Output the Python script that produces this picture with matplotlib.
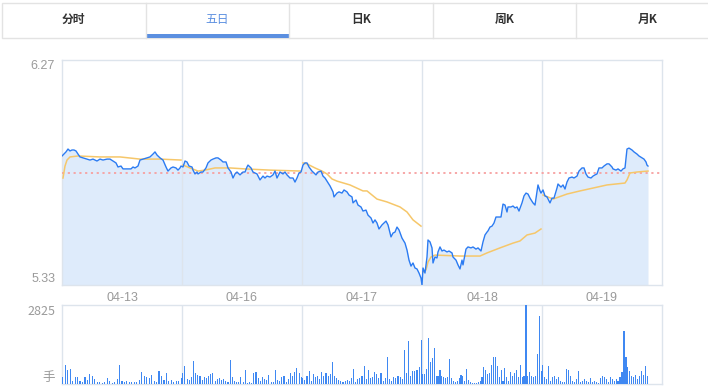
import numpy as np
import matplotlib
matplotlib.use("Agg")
import matplotlib.pyplot as plt
from matplotlib.patches import Rectangle
from matplotlib.lines import Line2D

plt.rcParams['font.family'] = ['Liberation Sans', 'Noto Sans CJK SC', 'DejaVu Sans']

# ---------------- data ----------------
tabs = ["分时", "五日", "日K", "周K", "月K"]
active_tab = 1
days = ["04-13", "04-16", "04-17", "04-18", "04-19"]
pre_close = 5.80
price_top, price_bottom = 6.27, 5.33
vol_max = 2825
vol_unit = "手"
day_len = 240

# (minute of session, price)
day1_price = [(0,5.869),(2,5.873),(8,5.886),(12,5.898),(16,5.890),(20,5.894),(24,5.894),(28,5.890),(32,5.877),(36,5.865),(42,5.861),(50,5.856),(56,5.852),(62,5.856),(70,5.848),(76,5.856),(82,5.852),(90,5.856),(96,5.856),(102,5.848),(108,5.840),(112,5.823),(118,5.827),(122,5.815),(130,5.815),(138,5.815),(142,5.823),(146,5.819),(152,5.827),(156,5.852),(162,5.856),(170,5.861),(176,5.865),(182,5.877),(186,5.886),(190,5.873),(196,5.861),(202,5.852),(208,5.823),(212,5.806),(218,5.819),(222,5.823),(228,5.819),(232,5.810),(236,5.819),(238,5.827)]
day2_price = [(2,5.823),(6,5.848),(10,5.844),(14,5.827),(20,5.823),(22,5.810),(26,5.794),(30,5.802),(32,5.794),(38,5.802),(42,5.802),(48,5.819),(52,5.840),(58,5.852),(62,5.856),(68,5.861),(72,5.861),(78,5.852),(82,5.844),(88,5.844),(92,5.819),(98,5.802),(102,5.777),(106,5.794),(110,5.802),(116,5.790),(122,5.802),(126,5.802),(130,5.823),(132,5.831),(138,5.819),(142,5.802),(150,5.794),(156,5.769),(162,5.785),(166,5.777),(170,5.785),(176,5.781),(182,5.790),(186,5.806),(190,5.777),(196,5.802),(202,5.794),(206,5.802),(210,5.790),(216,5.777),(222,5.777),(226,5.760),(230,5.777),(234,5.798),(238,5.802)]
day3_price = [(2,5.831),(6,5.840),(10,5.840),(14,5.823),(20,5.806),(24,5.798),(28,5.790),(32,5.802),(38,5.806),(42,5.785),(46,5.777),(50,5.764),(56,5.744),(62,5.719),(64,5.698),(70,5.714),(74,5.719),(80,5.714),(84,5.727),(90,5.719),(94,5.706),(100,5.698),(102,5.673),(108,5.685),(112,5.664),(118,5.656),(122,5.639),(128,5.643),(132,5.622),(138,5.610),(142,5.589),(146,5.602),(150,5.589),(154,5.564),(160,5.581),(162,5.585),(168,5.597),(172,5.581),(178,5.531),(182,5.547),(186,5.551),(190,5.572),(194,5.560),(200,5.526),(206,5.505),(210,5.476),(214,5.434),(218,5.409),(222,5.422),(226,5.401),(230,5.397),(234,5.380),(238,5.359),(240,5.330)]
day4_price = [(2,5.401),(6,5.380),(10,5.447),(12,5.518),(16,5.510),(20,5.485),(22,5.422),(26,5.447),(30,5.443),(32,5.468),(36,5.489),(40,5.472),(44,5.476),(50,5.468),(54,5.472),(60,5.464),(62,5.447),(68,5.434),(72,5.414),(76,5.397),(80,5.434),(82,5.414),(88,5.480),(92,5.489),(98,5.485),(102,5.489),(108,5.480),(112,5.485),(118,5.472),(122,5.510),(126,5.539),(130,5.551),(132,5.556),(136,5.572),(140,5.576),(144,5.589),(148,5.614),(152,5.614),(158,5.614),(162,5.668),(166,5.664),(170,5.635),(172,5.656),(178,5.656),(182,5.660),(186,5.652),(190,5.656),(194,5.639),(200,5.673),(204,5.702),(208,5.714),(212,5.710),(216,5.693),(222,5.673),(226,5.664),(230,5.719),(232,5.748),(236,5.723),(238,5.714)]
day5_price = [(2,5.727),(6,5.702),(10,5.698),(16,5.673),(20,5.693),(24,5.693),(30,5.735),(32,5.752),(38,5.739),(42,5.748),(46,5.731),(50,5.760),(54,5.777),(60,5.781),(64,5.777),(70,5.785),(74,5.806),(80,5.819),(84,5.819),(88,5.794),(92,5.781),(98,5.777),(102,5.785),(106,5.790),(110,5.794),(114,5.819),(120,5.819),(124,5.827),(130,5.836),(134,5.836),(140,5.823),(142,5.815),(148,5.810),(152,5.815),(158,5.806),(162,5.815),(166,5.819),(170,5.898),(174,5.902),(180,5.894),(184,5.886),(190,5.877),(194,5.869),(200,5.861),(204,5.856),(208,5.844),(210,5.831),(212,5.827)]

day1_avg = [(2,5.777),(6,5.827),(10,5.852),(16,5.865),(32,5.869),(76,5.865),(116,5.865),(156,5.856),(196,5.856),(238,5.852)]
day2_avg = [(2,5.831),(16,5.819),(32,5.806),(46,5.810),(66,5.819),(96,5.819),(126,5.815),(176,5.810),(238,5.806)]
day3_avg = [(2,5.840),(10,5.836),(26,5.819),(40,5.806),(50,5.794),(60,5.773),(70,5.764),(96,5.748),(122,5.723),(130,5.723),(150,5.689),(170,5.677),(196,5.656),(210,5.635),(222,5.602),(238,5.576)]
day4_avg = [(2,5.384),(8,5.393),(12,5.426),(18,5.447),(26,5.455),(76,5.451),(116,5.451),(130,5.464),(156,5.485),(182,5.505),(196,5.514),(210,5.539),(226,5.547),(238,5.564)]
day5_avg = [(2,5.706),(22,5.689),(50,5.710),(76,5.723),(102,5.735),(130,5.748),(166,5.756),(170,5.769),(176,5.798),(190,5.802),(212,5.806)]

day1_vol = [241,688,483,543,121,241,241,121,84,266,157,362,302,181,84,60,36,60,229,121,36,60,181,664,121,60,109,60,60,60,84,157,422,302,241,205,338,121,60,447,278,157,398,121,157,84,121,121,205]
day2_vol = [398,628,181,157,266,809,398,326,302,157,241,205,302,362,398,121,181,205,157,181,121,84,845,241,121,84,84,266,60,483,36,84,36,386,422,205,121,266,181,157,326,84,60,483,157,121,241,302,84,181,398,302,422,567,398,241]
day3_vol = [205,157,302,447,121,362,241,302,181,422,302,398,302,362,785,302,205,157,121,84,121,157,121,205,519,84,181,205,302,640,181,483,205,241,422,362,205,398,121,205,966,181,121,241,205,278,241,181,1207,398,1533,302,447,447,483,604,1569]
day4_vol = [362,362,543,1654,785,930,1291,302,302,483,302,241,205,241,881,205,121,84,121,205,326,278,121,543,157,84,36,36,36,84,121,241,604,483,362,398,664,954,954,640,241,483,121,567,241,121,422,302,398,483,241,688,241,302,2825,302,422,302,241,302,1086,2414,447]
day5_vol = [688,241,181,640,121,241,302,181,241,121,84,60,519,483,302,121,84,181,447,84,121,181,121,84,205,84,121,84,36,205,302,241,181,84,241,181,121,181,121,241,422,1895,966,604,447,302,241,326,181,302,447,326,640,302]
day5_end = 213

# ---------------- style ----------------
W, H = 708, 387
BLUE = "#2b7bf2"
FILL = "#deebfb"
AVG = "#f6c76a"
GRID = "#dde4ec"
TXT = "#9a9a9a"

fig = plt.figure(figsize=(W / 100, H / 100), dpi=100)
fig.patch.set_facecolor("white")

def fx(px):
    return px / W

def fy(py):
    return 1 - py / H

# ---------------- tabs ----------------
tab_l, tab_r, tab_t, tab_b = 2, 719.5, 2.5, 37.5
tab_w = (tab_r - tab_l) / len(tabs)
fig.add_artist(Rectangle((fx(tab_l), fy(tab_b)), fx(tab_r - tab_l), (tab_b - tab_t) / H,
                         transform=fig.transFigure, facecolor="white", edgecolor="#e3e3e3", lw=1))
for i, name in enumerate(tabs):
    x0 = tab_l + i * tab_w
    if i > 0:
        fig.add_artist(Line2D([fx(x0), fx(x0)], [fy(tab_t), fy(tab_b)], transform=fig.transFigure,
                              color="#e3e3e3", lw=1))
    cx = x0 + tab_w / 2
    if i == active_tab:
        fig.add_artist(Rectangle((fx(x0 + 0.5), fy(tab_b)), fx(tab_w - 1), 3 / H,
                                 transform=fig.transFigure, facecolor="#5b8fe0", edgecolor="none"))
        fig.text(fx(cx), fy(19.5), name, ha="center", va="center", fontsize=8.5, color="#5b8fe0",
                 family=["Noto Sans CJK SC", "DejaVu Sans"])
    else:
        fig.text(fx(cx), fy(19.5), name, ha="center", va="center", fontsize=8.5, color="#333333",
                 fontweight="bold", family=["Noto Sans CJK SC", "DejaVu Sans"])

# ---------------- price panel ----------------
L, R = 62, 662
ax = fig.add_axes([fx(L), fy(285), fx(R - L), (285 - 60) / H])
ax_v = fig.add_axes([fx(L), fy(384), fx(R - L), (384 - 305) / H])

price_days = [day1_price, day2_price, day3_price, day4_price, day5_price]
avg_days = [day1_avg, day2_avg, day3_avg, day4_avg, day5_avg]
vol_days = [day1_vol, day2_vol, day3_vol, day4_vol, day5_vol]

t_all, p_all = [], []
for d, pts in enumerate(price_days):
    for t, p in pts:
        t_all.append(t + d * day_len)
        p_all.append(p)
t_all = np.array(t_all)
p_all = np.array(p_all)

n_days = len(days)
ax.set_xlim(0, n_days * day_len)
ax.set_ylim(price_bottom, price_top)
ax.fill_between(t_all, p_all, price_bottom, color=FILL, lw=0, zorder=1)
for d in range(1, n_days):
    ax.axvline(d * day_len, color=GRID, lw=1, zorder=2)
ax.axhline(pre_close, color="#f7a0a0", lw=1.3, ls=(0, (1.2, 2.0)), zorder=3)
ax.plot(t_all, p_all, color=BLUE, lw=1.0, zorder=5)
for d, pts in enumerate(avg_days):
    ta = np.array([t for t, _ in pts]) + d * day_len
    pa = np.array([p for _, p in pts])
    ax.plot(ta, pa, color=AVG, lw=1.1, zorder=4)

ax.set_xticks([(d + 0.5) * day_len for d in range(n_days)])
ax.set_xticklabels(days)
ax.set_yticks([price_bottom, price_top])
ax.set_yticklabels([f"{price_bottom:.2f}", f"{price_top:.2f}"])
ax.tick_params(axis="both", length=0, labelsize=9, labelcolor=TXT)
ax.tick_params(axis="x", pad=5)
ax.tick_params(axis="y", pad=5)
yl = ax.get_yticklabels()
yl[0].set_va("bottom")
yl[1].set_va("top")
for s in ax.spines.values():
    s.set_color(GRID)
    s.set_linewidth(1)

# ---------------- volume panel ----------------
ax_v.set_xlim(0, n_days * day_len)
ax_v.set_ylim(0, vol_max)
for d, vols in enumerate(vol_days):
    end = day5_end if d == n_days - 1 else day_len
    pos = np.linspace(1.5, end - 1.5, len(vols)) + d * day_len
    ax_v.bar(pos, vols, width=2.2, color="#3f88f2", lw=0, zorder=3, antialiased=False)
for d in range(1, n_days):
    ax_v.axvline(d * day_len, color=GRID, lw=1, zorder=2)
ax_v.set_xticks([])
ax_v.set_yticks([0, vol_max])
ax_v.set_yticklabels([vol_unit, str(vol_max)], family=["Noto Sans CJK SC", "DejaVu Sans"])
ax_v.tick_params(axis="y", length=0, labelsize=9, labelcolor=TXT, pad=5)
vl = ax_v.get_yticklabels()
vl[0].set_va("bottom")
vl[1].set_va("top")
for s in ax_v.spines.values():
    s.set_color(GRID)
    s.set_linewidth(1)

fig.savefig("out.png", dpi=100, facecolor="white")
